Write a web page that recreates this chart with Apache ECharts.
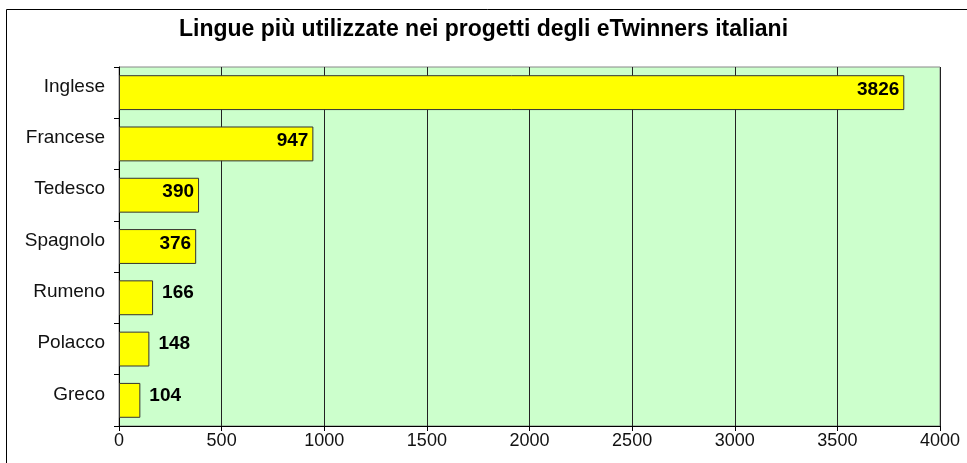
<!DOCTYPE html>
<html>
<head>
	<meta charset="UTF-8">
	<title>Lingue</title>
	<style>
		html, body { margin: 0; padding: 0; background: #fff; }
		#main { width: 967px; height: 463px; }
	</style>
</head>
<body>
	<div id="main"></div>
	<script src="https://cdn.jsdelivr.net/npm/echarts@6/dist/echarts.min.js"></script>
	<script>
		// dati
		var lingue = ['Inglese', 'Francese', 'Tedesco', 'Spagnolo', 'Rumeno', 'Polacco', 'Greco'];
		var progetti = [3826, 947, 390, 376, 166, 148, 104];
		var tickX = [0, 500, 1000, 1500, 2000, 2500, 3000, 3500, 4000];

		var font = 'Liberation Sans, Arial, sans-serif';
		var myChart = echarts.init(document.getElementById('main'));

		var barData = [];
		for (var i = 0; i < progetti.length; i++) {
			// le barre corte hanno l'etichetta fuori
			var dentro = progetti[i] > 300;
			barData.push({
				value: progetti[i],
				label: {
					position: dentro ? 'insideRight' : 'right',
					distance: dentro ? 5 : 9,
					offset: [0, dentro ? -3 : -5]
				}
			});
		}

		var option = {
			animation: false,
			title: {
				text: 'Lingue più utilizzate nei progetti degli eTwinners italiani',
				left: 'center',
				top: 13,
				textStyle: { fontFamily: font, fontSize: 23, fontWeight: 'bold', color: '#000' }
			},
			graphic: [{
				type: 'rect',
				shape: { x: 6.5, y: 9.5, width: 1000, height: 600 },
				style: { fill: 'none', stroke: '#000', lineWidth: 1 },
				silent: true
			}],
			grid: {
				left: 119,
				right: 27,
				top: 67,
				bottom: 37,
				show: true,
				backgroundColor: '#ccffcc',
				borderColor: '#888',
				borderWidth: 1
			},
			xAxis: {
				type: 'value',
				min: tickX[0],
				max: tickX[tickX.length - 1],
				interval: 500,
				axisLine: { show: true, lineStyle: { color: '#000' } },
				axisTick: { show: true, length: 5, lineStyle: { color: '#000' } },
				axisLabel: {
					fontFamily: font, fontSize: 18, color: '#111', margin: 6,
					formatter: function (v) { return String(v); }
				},
				splitLine: { show: true, lineStyle: { color: '#222', width: 1 } }
			},
			yAxis: {
				type: 'category',
				inverse: true,
				data: lingue,
				axisLine: { show: true, lineStyle: { color: '#000' } },
				axisTick: { show: true, length: 5, lineStyle: { color: '#000' } },
				axisLabel: {
					fontFamily: font, fontSize: 19, color: '#111', margin: 14,
					verticalAlign: 'bottom',
					lineHeight: 12
				}
			},
			series: [{
				type: 'bar',
				data: barData,
				barCategoryGap: '32%',
				itemStyle: { color: '#ffff00', borderColor: '#333', borderWidth: 1 },
				label: {
					show: true,
					fontFamily: font,
					fontSize: 19,
					fontWeight: 'bold',
					color: '#000'
				}
			}]
		};
		myChart.setOption(option);
	</script>
</body>
</html>
